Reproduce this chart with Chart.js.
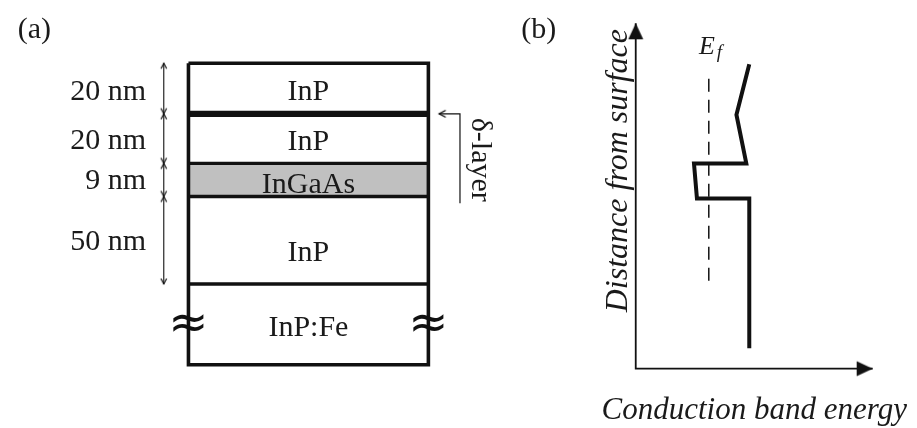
<!DOCTYPE html>
<html>
<head>
<meta charset="utf-8">
<script src="https://cdn.jsdelivr.net/npm/chart.js@4.4.0/dist/chart.umd.min.js"></script>
<style>
  html, body { margin: 0; padding: 0; background: #fff; overflow: hidden; }
  canvas { display: block; }
</style>
</head>
<body>
<canvas id="c" width="917" height="428"></canvas>
<script>
// ---- Sample layer stack (panel a) ----
const layerNames = ['InP', 'InP', 'InGaAs', 'InP', 'InP:Fe'];
const layerThickness = ['20 nm', '20 nm', '9 nm', '50 nm'];
// interface depths in drawing units, surface first
const layerEdges = [59, 111, 162, 196, 286, 369];
const deltaEdge = 1;   // interface carrying the δ-doped sheet
const wellLayer = 2;   // InGaAs quantum well

// ---- Conduction band profile (panel b) ----
const bandEnergy = [753, 740, 750, 697, 700, 753, 753];
const bandDepth  = [60, 112, 162, 162, 198, 198, 352];
const fermiEnergy = 712;

// ---- Frame geometry (drawing units) ----
const stackLeft = 185, stackRight = 428, dimX = 160;
const deltaLeaderX = 460, deltaLeaderTip = 439, deltaLeaderBottom = 203;
const axisX = 638, axisY = 373, axisTop = 18, axisEnd = 878;
const fermiTop = 75, fermiBottom = 285;

const SERIF = "'Liberation Serif', 'Times New Roman', serif";

// Arrow-head sprites with the tip at the sprite centre (pointing up)
function chevron(size, arm, spread, width) {
  const c = document.createElement('canvas');
  c.width = size; c.height = size;
  const g = c.getContext('2d');
  const m = size / 2;
  g.strokeStyle = '#111';
  g.lineWidth = width;
  g.lineCap = 'round';
  g.lineJoin = 'miter';
  g.beginPath();
  g.moveTo(m - spread, m + arm);
  g.lineTo(m, m);
  g.lineTo(m + spread, m + arm);
  g.stroke();
  return c;
}
function solidHead(size, len, half) {
  const c = document.createElement('canvas');
  c.width = size; c.height = size;
  const g = c.getContext('2d');
  const m = size / 2;
  g.fillStyle = '#111';
  g.beginPath();
  g.moveTo(m, m);
  g.lineTo(m - half, m + len);
  g.lineTo(m + half, m + len);
  g.closePath();
  g.fill();
  return c;
}
const smallHead = chevron(14, 5, 2.6, 1.2);
const leaderHead = chevron(18, 6, 3.2, 1.3);
const axisHead = solidHead(40, 16, 7.5);

const ink = '#111';
const datasets = [];

// InGaAs well shading
datasets.push({
  data: [{ x: stackLeft, y: layerEdges[wellLayer] }, { x: stackRight, y: layerEdges[wellLayer] }],
  borderColor: 'rgba(0,0,0,0)', borderWidth: 1, pointRadius: 0,
  backgroundColor: '#c0c0c0',
  fill: { target: { value: layerEdges[wellLayer + 1] } },
  order: 10
});

// stack outline
const stackTop = layerEdges[0], stackBottom = layerEdges[layerEdges.length - 1];
datasets.push({
  data: [
    { x: stackLeft, y: stackTop }, { x: stackRight, y: stackTop },
    { x: stackRight, y: stackBottom }, { x: stackLeft, y: stackBottom },
    { x: stackLeft, y: stackTop }
  ],
  borderColor: ink, borderWidth: 3.6, borderJoinStyle: 'miter', pointRadius: 0, fill: false
});

// inner interfaces
for (let i = 1; i < layerEdges.length - 1; i++) {
  datasets.push({
    data: [{ x: stackLeft, y: layerEdges[i] }, { x: stackRight, y: layerEdges[i] }],
    borderColor: ink, borderWidth: i === deltaEdge ? 6.2 : 3.4, pointRadius: 0, fill: false
  });
}

// thickness dimension arrows
for (let i = 0; i < layerThickness.length; i++) {
  datasets.push({
    data: [{ x: dimX, y: layerEdges[i] }, { x: dimX, y: layerEdges[i + 1] }],
    borderColor: ink, borderWidth: 1.1, fill: false,
    pointStyle: smallHead, pointRadius: 1, pointRotation: [0, 180]
  });
}

// δ-layer leader
datasets.push({
  data: [
    { x: deltaLeaderX, y: deltaLeaderBottom },
    { x: deltaLeaderX, y: layerEdges[deltaEdge] },
    { x: deltaLeaderTip, y: layerEdges[deltaEdge] }
  ],
  borderColor: ink, borderWidth: 1.2, borderJoinStyle: 'miter', fill: false,
  pointStyle: leaderHead, pointRadius: [0, 0, 1], pointRotation: [0, 0, 270]
});

// band diagram axes
datasets.push({
  data: [{ x: axisX, y: axisTop }, { x: axisX, y: axisY }, { x: axisEnd, y: axisY }],
  borderColor: ink, borderWidth: 1.8, borderJoinStyle: 'miter', fill: false,
  pointStyle: axisHead, pointRadius: [1, 0, 1], pointRotation: [0, 0, 90]
});

// Fermi level
datasets.push({
  data: [{ x: fermiEnergy, y: fermiTop }, { x: fermiEnergy, y: fermiBottom }],
  borderColor: ink, borderWidth: 1.5, borderDash: [13, 8], pointRadius: 0, fill: false
});

// conduction band edge
datasets.push({
  data: bandEnergy.map((e, i) => ({ x: e, y: bandDepth[i] })),
  borderColor: ink, borderWidth: 4, borderJoinStyle: 'miter', pointRadius: 0, fill: false
});

// ---- Text ----
const nameBaselines = [97, 148, 192, 262, 339];
const thickBaselines = [97, 147, 188, 251];
const texts = [
  { t: '(a)', x: 12, y: 33, font: `30px ${SERIF}`, align: 'left' },
  { t: '(b)', x: 522, y: 33, font: `30px ${SERIF}`, align: 'left' },
  { t: 'δ-layer', x: 472, y: 115, font: `30px ${SERIF}`, align: 'left', rot: 90 },
  { t: 'Distance from surface', x: 629, y: 315, font: `italic 32px ${SERIF}`, align: 'left', rot: -90 },
  { t: 'Conduction band energy', x: 758, y: 425, font: `italic 31px ${SERIF}`, align: 'center' },
  { t: 'E', x: 702, y: 50, font: `italic 26px ${SERIF}`, align: 'left' },
  { t: 'f', x: 720, y: 54, font: `italic 19px ${SERIF}`, align: 'left' }
];
layerNames.forEach((n, i) => texts.push({ t: n, x: (stackLeft + stackRight) / 2, y: nameBaselines[i], font: `30px ${SERIF}`, align: 'center' }));
layerThickness.forEach((n, i) => texts.push({ t: n, x: 142, y: thickBaselines[i], font: `30px ${SERIF}`, align: 'right' }));

// substrate break marks
const breakY = (layerEdges[4] + layerEdges[5]) / 2 + 1;
const breaks = [stackLeft, stackRight];

const labelPlugin = {
  id: 'labels',
  beforeDraw(chart) {
    const ctx = chart.ctx;
    ctx.save();
    ctx.fillStyle = '#fff';
    ctx.fillRect(0, 0, chart.width, chart.height);
    ctx.restore();
  },
  afterDatasetsDraw(chart) {
    const ctx = chart.ctx;
    const sx = chart.scales.x, sy = chart.scales.y;
    ctx.save();
    ctx.fillStyle = '#1a1a1a';
    for (const d of texts) {
      ctx.save();
      ctx.translate(sx.getPixelForValue(d.x), sy.getPixelForValue(d.y));
      if (d.rot) ctx.rotate(d.rot * Math.PI / 180);
      ctx.font = d.font;
      ctx.textAlign = d.align;
      ctx.textBaseline = 'alphabetic';
      ctx.fillText(d.t, 0, 0);
      ctx.restore();
    }
    ctx.font = `48px 'DejaVu Sans'`;
    ctx.textAlign = 'center';
    ctx.textBaseline = 'middle';
    ctx.fillStyle = ink;
    for (const bx of breaks) {
      ctx.fillText('≈', sx.getPixelForValue(bx), sy.getPixelForValue(breakY));
    }
    ctx.restore();
  }
};

new Chart(document.getElementById('c'), {
  type: 'scatter',
  data: { datasets: datasets.map(d => Object.assign({ showLine: true, tension: 0, spanGaps: false }, d)) },
  options: {
    responsive: false,
    devicePixelRatio: 1,
    animation: false,
    events: [],
    layout: { padding: 0 },
    plugins: { legend: { display: false }, tooltip: { enabled: false }, title: { display: false } },
    scales: {
      x: { type: 'linear', min: 0, max: 917, display: false },
      y: { type: 'linear', min: 0, max: 428, reverse: true, display: false }
    }
  },
  plugins: [labelPlugin]
});
</script>
</body>
</html>
